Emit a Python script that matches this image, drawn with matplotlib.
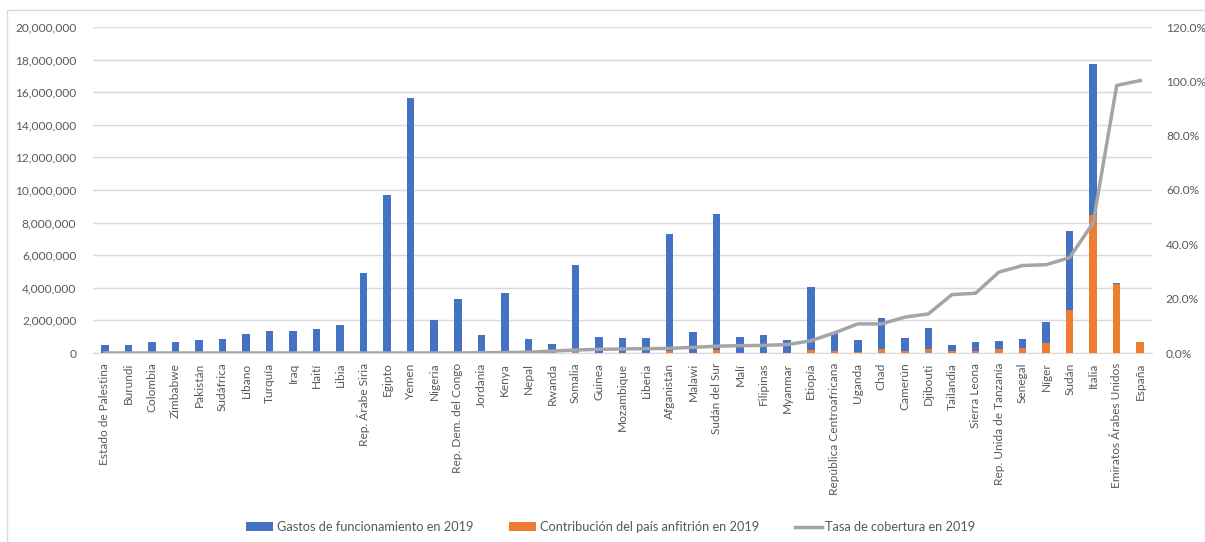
import matplotlib
matplotlib.use("Agg")
import matplotlib.pyplot as plt
from matplotlib.ticker import FuncFormatter
from matplotlib.patches import Rectangle

# data
countries = ["Estado de Palestina", "Burundi", "Colombia", "Zimbabwe", "Pakistán", "Sudáfrica",
             "Líbano", "Turquía", "Iraq", "Haití", "Libia", "Rep. Árabe Siria", "Egipto", "Yemen",
             "Nigeria", "Rep. Dem. del Congo", "Jordania", "Kenya", "Nepal", "Rwanda", "Somalia",
             "Guinea", "Mozambique", "Liberia", "Afganistán", "Malawi", "Sudán del Sur", "Malí",
             "Filipinas", "Myanmar", "Etiopía", "República Centroafricana", "Uganda", "Chad",
             "Camerún", "Djibouti", "Tailandia", "Sierra Leona", "Rep. Unida de Tanzanía",
             "Senegal", "Níger", "Sudán", "Italia", "Emiratos Árabes Unidos", "España"]

# millions
gastos = [0.51, 0.51, 0.65, 0.69, 0.80, 0.84, 1.16, 1.33, 1.37, 1.49, 1.73, 4.92, 9.70, 15.65,
          2.05, 3.31, 1.12, 3.67, 0.88, 0.55, 5.37, 0.96, 0.92, 0.92, 7.27, 1.29, 8.53, 0.96,
          1.08, 0.82, 4.02, 1.28, 0.80, 2.17, 0.92, 1.52, 0.49, 0.66, 0.74, 0.88, 1.93, 7.49,
          17.72, 4.27, 0.65]
contribucion = [0, 0, 0, 0, 0, 0, 0, 0, 0, 0, 0, 0, 0, 0, 0, 0, 0.002, 0.005, 0.003, 0.004,
                0.06, 0.013, 0.014, 0.015, 0.12, 0.027, 0.21, 0.026, 0.03, 0.025, 0.18, 0.097,
                0.09, 0.23, 0.12, 0.22, 0.105, 0.145, 0.22, 0.285, 0.63, 2.63, 8.49, 4.21, 0.65]
# percent
cobertura = [0, 0, 0, 0, 0, 0, 0, 0, 0, 0, 0, 0, 0, 0, 0, 0, 0.1, 0.15, 0.3, 0.7, 1.1, 1.35,
             1.5, 1.6, 1.7, 2.1, 2.5, 2.7, 2.8, 3.1, 4.5, 7.4, 10.7, 10.7, 13.2, 14.4, 21.5,
             22.0, 29.8, 32.2, 32.5, 35.1, 47.9, 98.5, 100.3]

plt.rcParams['font.family'] = ['Lato', 'DejaVu Sans']
txt = "#595959"
blue = "#4472C4"
orange = "#ED7D31"
grey = "#A5A5A5"

fig = plt.figure(figsize=(12.05, 5.42), dpi=100)
ax = fig.add_axes([93/1205, 1-353/542, (1152-93)/1205, (353-27)/542])
x = list(range(len(countries)))

b1 = ax.bar(x, [g*1e6 for g in gastos], width=0.32, color=blue, zorder=2,
            label="Gastos de funcionamiento en 2019")
b2 = ax.bar(x, [c*1e6 for c in contribucion], width=0.32, color=orange, zorder=3,
            label="Contribución del país anfitrión en 2019")
ax.set_xlim(-0.5, len(countries)-0.5)
ax.set_ylim(0, 20e6)
ax.set_yticks([i*2e6 for i in range(11)])
ax.yaxis.set_major_formatter(FuncFormatter(lambda v, p: "0" if v == 0 else f"{int(v):,}"))
ax.grid(axis="y", color="#D9D9D9", linewidth=1, zorder=0)
ax.set_axisbelow(True)
for s in ["top", "right", "left"]:
    ax.spines[s].set_visible(False)
ax.spines["bottom"].set_color("#D9D9D9")
ax.set_xticks(x)
ax.set_xticklabels(countries, rotation=90, fontsize=8.6, color=txt)
ax.tick_params(axis="both", length=0, labelsize=8.6, labelcolor=txt)
ax.tick_params(axis="y", pad=12)
ax.tick_params(axis="x", pad=7)

ax2 = ax.twinx()
l1, = ax2.plot(x, cobertura, color=grey, linewidth=2.5, zorder=4,
               label="Tasa de cobertura en 2019")
ax2.set_ylim(0, 120)
ax2.set_yticks([0, 20, 40, 60, 80, 100, 120])
ax2.yaxis.set_major_formatter(FuncFormatter(lambda v, p: f"{v:.1f}%"))
ax2.tick_params(axis="y", length=0, labelsize=8.6, labelcolor=txt, pad=10)
for s in ax2.spines.values():
    s.set_visible(False)

fig.legend(handles=[b1, b2, l1], loc="center", bbox_to_anchor=(0.507, 1-527/542), ncol=3,
           frameon=False, fontsize=9.2, labelcolor=txt, handlelength=2.1, handleheight=0.6,
           columnspacing=2.8, handletextpad=0.3)

fig.patches.append(Rectangle((7/1205, -0.05), 1.1, 1.05-10/542, transform=fig.transFigure,
                             fill=False, edgecolor="#D9D9D9", linewidth=1))

fig.savefig("out.png", dpi=100)
